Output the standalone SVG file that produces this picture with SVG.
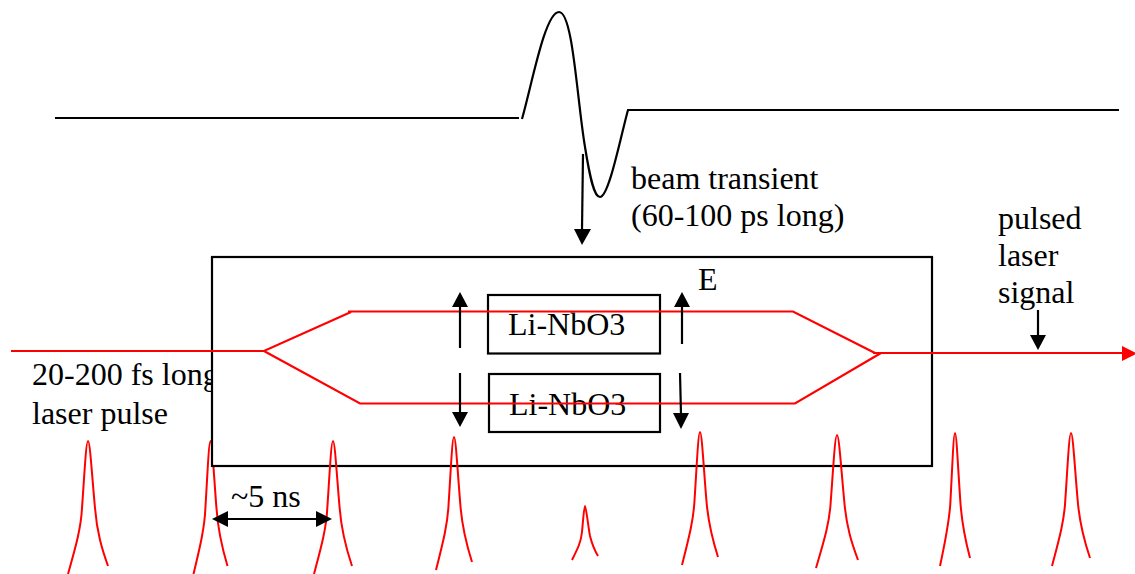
<svg xmlns="http://www.w3.org/2000/svg" width="1135" height="574" viewBox="0 0 1135 574">
<style>
.t{font-family:"Liberation Serif","Times New Roman",serif;font-size:32px;fill:#000}
.k{fill:none;stroke:#000;stroke-width:2.200}
.b{fill:#fff;stroke:#000;stroke-width:2.200}
.r{fill:none;stroke:#f00;stroke-width:2.200}
.p{fill:none;stroke:#f00;stroke-width:2;vector-effect:non-scaling-stroke}
.kh{fill:#000}
</style>
<defs>
<path id="pulse" vector-effect="non-scaling-stroke" d="M-20 133C-13 108 -7 88 -6 67C-4 40 -2 0 0 0C2 0 4 35 7 67C9 92 14 108 20 125"/>
</defs>
<rect width="1135" height="574" fill="#fff"/>
<g id="waveform">
<path class="k" d="M55 118H519"/>
<path class="k" d="M522 119C532 84 545 12 559 12C573 12 577 100 585 147C590 178 594 197 600 197C609 197 621 135 628 110H1119"/>
</g>
<g id="laser-pulse-label">
<text class="t" x="32" y="385">20-200 fs long</text>
<text class="t" x="32" y="424">laser pulse</text>
</g>
<g id="pulse-2"><use class="p" href="#pulse" transform="translate(210.500 441) scale(.85 1)"/></g>
<g id="modulator"><rect class="b" x="212" y="257" width="720" height="209"/></g>
<g id="crystal-top"><rect class="b" x="488" y="295" width="172" height="58.500"/><text class="t" x="508" y="335">Li-NbO3</text></g>
<g id="crystal-bottom"><rect class="b" x="489" y="374" width="171" height="58"/><text class="t" x="509" y="415">Li-NbO3</text></g>
<g id="labels">
<text class="t" x="631" y="189">beam transient</text>
<text class="t" x="631" y="226">(60-100 ps long)</text>
<text class="t" x="698" y="290">E</text>
<text class="t" x="998" y="229">pulsed</text>
<text class="t" x="998" y="266">laser</text>
<text class="t" x="998" y="303">signal</text>
<text class="t" x="231" y="507">~5 ns</text>
</g>
<g id="pulses">
<use class="p" href="#pulse" transform="translate(88 441)"/>
<use class="p" href="#pulse" transform="translate(333 441) scale(.95 1)"/>
<use class="p" href="#pulse" transform="translate(454 437) scale(.9 1)"/>
<path class="p" d="M572 560C578 548 581 542 582 532C583 522 584 506 585 506C586 506 588 525 590 536C592 544 595 551 598 556"/>
<use class="p" href="#pulse" transform="translate(700 432) scale(.9 1)"/>
<use class="p" href="#pulse" transform="translate(837 435) scale(1.05 1)"/>
<use class="p" href="#pulse" transform="translate(955 433) scale(.75 1)"/>
<use class="p" href="#pulse" transform="translate(1071 433) scale(.95 1)"/>
</g>
<g id="connectors">
<path class="r" d="M11 351H264L351 312M348 311.500H793L875 353M873 353H1122M264 351L360 403.500H795L881 353"/>
<path d="M1122 346L1137 353.500L1122 361Z" fill="#f00"/>
<path class="k" d="M583 154L582 230"/><path class="kh" d="M574 229H591L582 245Z"/>
<path class="k" d="M460 348V306"/><path class="kh" d="M452 307H468L460 292Z"/>
<path class="k" d="M682 344V306"/><path class="kh" d="M674 307H690L682 292Z"/>
<path class="k" d="M460 373V414"/><path class="kh" d="M452 412H468L460 427Z"/>
<path class="k" d="M680 373L681 415"/><path class="kh" d="M673 413H689L681 429Z"/>
<path class="k" d="M1038 310V337"/><path class="kh" d="M1030 335H1046L1038 350Z"/>
<path class="k" d="M226 519H318"/><path class="kh" d="M228 511V527L212 519Z"/><path class="kh" d="M316 511V527L332 519Z"/>
</g>
</svg>
